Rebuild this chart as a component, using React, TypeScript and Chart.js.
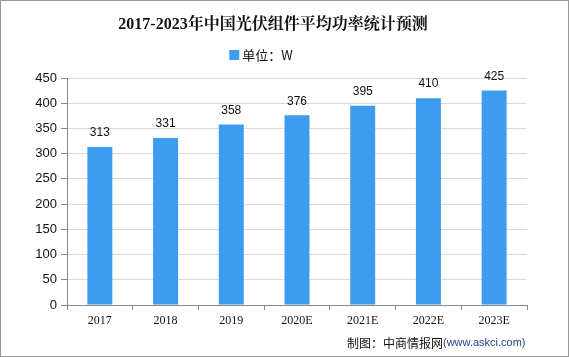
import React, { useEffect, useRef } from "react";
import { Chart, registerables } from "chart.js";

Chart.register(...registerables);

const categories = ["2017", "2018", "2019", "2020E", "2021E", "2022E", "2023E"];
const values = [313, 331, 358, 376, 395, 410, 425];
const seriesName = "单位：W";
const titleText = "2017-2023年中国光伏组件平均功率统计预测";
const sourceLabel = "制图：中商情报网";
const sourceUrl = "(www.askci.com)";

const BAR_COLOR = "#3d9cf0";

const decorations = {
  id: "decorations",
  afterDatasetsDraw(chart: any) {
    const ctx = chart.ctx;
    const meta = chart.getDatasetMeta(0);
    ctx.save();
    ctx.font = "12px 'Liberation Sans', sans-serif";
    ctx.fillStyle = "#111";
    ctx.textAlign = "center";
    ctx.textBaseline = "middle";
    meta.data.forEach((el: any, i: number) => {
      ctx.fillText(String(values[i]), el.x, el.y - 14);
    });
    ctx.restore();
  },
  afterDraw(chart: any) {
    const ctx = chart.ctx;
    ctx.save();
    // title
    ctx.textBaseline = "middle";
    ctx.textAlign = "center";
    ctx.fillStyle = "#111";
    ctx.font = "bold 16px 'Liberation Serif', 'Noto Serif CJK SC', serif";
    ctx.fillText(titleText, 272, 24);
    // legend
    ctx.font = "13px 'Noto Sans CJK SC', sans-serif";
    const tw = ctx.measureText(seriesName).width;
    const total = 10 + 3 + tw;
    const lx = 260 - total / 2;
    ctx.fillStyle = BAR_COLOR;
    ctx.fillRect(lx, 49, 10, 10);
    ctx.fillStyle = "#111";
    ctx.textAlign = "left";
    ctx.fillText(seriesName, lx + 13, 54);
    // footer
    const x0 = 346;
    const y0 = 342;
    ctx.font = "12px 'Noto Sans CJK SC', sans-serif";
    ctx.fillStyle = "#111";
    ctx.fillText(sourceLabel, x0, y0);
    const w = ctx.measureText(sourceLabel).width;
    ctx.font = "11px 'Liberation Sans', sans-serif";
    ctx.fillStyle = "#27408f";
    ctx.fillText(sourceUrl, x0 + w, y0);
    ctx.restore();
  },
};

export default function App() {
  const ref = useRef<HTMLCanvasElement>(null);
  useEffect(() => {
    document.body.style.margin = "0";
    const chart = new Chart(ref.current!, {
      type: "bar",
      data: {
        labels: categories,
        datasets: [
          {
            label: seriesName,
            data: values,
            backgroundColor: BAR_COLOR,
            barPercentage: 0.38,
            categoryPercentage: 1,
          },
        ],
      },
      options: {
        animation: false,
        responsive: false,
        layout: { padding: { left: 0, right: 41, top: 77, bottom: 29 } },
        plugins: {
          title: { display: false },
          legend: { display: false },
          tooltip: { enabled: false },
        },
        scales: {
          x: {
            offset: true,
            afterFit: (s: any) => {
              s.height = 22;
            },
            grid: {
              display: true,
              offset: true,
              drawOnChartArea: false,
              drawTicks: true,
              tickLength: 5,
              tickColor: "#888",
            },
            border: { color: "#888" },
            ticks: {
              color: "#111",
              font: { family: "'Liberation Serif', serif", size: 12 },
              padding: 4,
              maxRotation: 0,
            },
          },
          y: {
            min: 0,
            max: 450,
            afterFit: (s: any) => {
              s.width = 66;
            },
            ticks: {
              stepSize: 50,
              color: "#111",
              font: { family: "'Liberation Sans', sans-serif", size: 13 },
              padding: 4,
            },
            grid: {
              color: "#d9d9d9",
              drawTicks: true,
              tickLength: 6,
              tickColor: "#888",
            },
            border: { color: "#888" },
          },
        },
      },
      plugins: [decorations],
    });
    return () => chart.destroy();
  }, []);
  return (
    <div
      style={{
        position: "relative",
        width: 569,
        height: 357,
        boxSizing: "border-box",
        border: "1px solid #999",
        background: "#fff",
        overflow: "hidden",
      }}
    >
      <canvas ref={ref} width={567} height={355} style={{ display: "block" }} />
    </div>
  );
}
